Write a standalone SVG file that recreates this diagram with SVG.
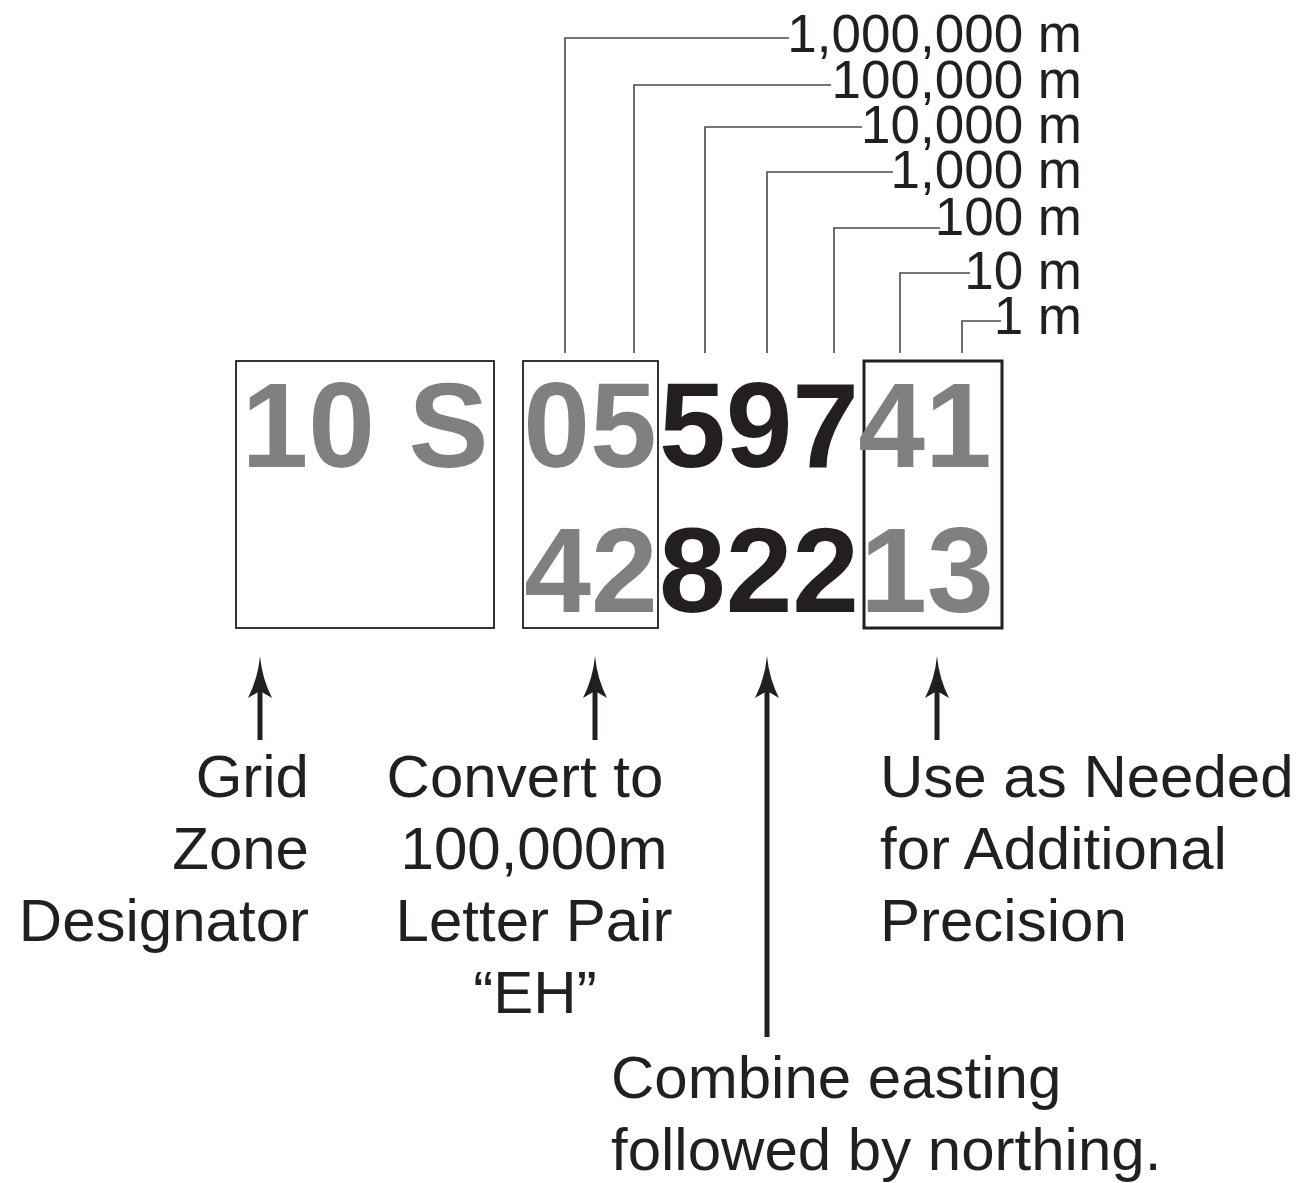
<svg xmlns="http://www.w3.org/2000/svg" width="1301" height="1183" viewBox="0 0 1301 1183">
<style>
.lbl{font-family:"Liberation Sans",Arial,Helvetica,sans-serif;font-size:53px;fill:#231f20;text-anchor:end}
.cap{font-family:"Liberation Sans",Arial,Helvetica,sans-serif;font-size:60px;fill:#231f20}
.big{font-family:"Liberation Sans",Arial,Helvetica,sans-serif;font-size:120px;font-weight:bold;text-anchor:middle}
.g{fill:#808080}
.k{fill:#231f20}
.box{fill:none;stroke:#231f20;stroke-width:1.8}
.leader{fill:none;stroke:#4a4a4a;stroke-width:1.6}
.shaft{stroke:#231f20;stroke-width:5;fill:none}
</style>
<defs>
<path id="head" d="M0,0 Q2,22 12,42 L0,35 L-12,42 Q-2,22 0,0 Z" fill="#231f20"/>
</defs>
<rect width="1301" height="1183" fill="#ffffff"/>

<g id="connectors">
<polyline class="leader" points="565,353 565,38 789,38"/>
<polyline class="leader" points="634,353 634,85 831,85"/>
<polyline class="leader" points="705,353 705,127 862,127"/>
<polyline class="leader" points="767,353 767,172 893,172"/>
<polyline class="leader" points="834,353 834,228 940,228"/>
<polyline class="leader" points="900,353 900,273 970,273"/>
<polyline class="leader" points="962,353 962,321 1001,321"/>

<line class="shaft" x1="260" y1="690" x2="260" y2="740"/>
<use href="#head" x="260" y="656"/>
<line class="shaft" x1="595" y1="690" x2="595" y2="740"/>
<use href="#head" x="595" y="656"/>
<line class="shaft" x1="767" y1="690" x2="767" y2="1037"/>
<use href="#head" x="767" y="656"/>
<line class="shaft" x1="937" y1="690" x2="937" y2="740"/>
<use href="#head" x="937" y="656"/>
</g>

<g id="scale-labels">
<text class="lbl" x="1082" y="52">1,000,000 m</text>
<text class="lbl" x="1082" y="98">100,000 m</text>
<text class="lbl" x="1082" y="143">10,000 m</text>
<text class="lbl" x="1082" y="188">1,000 m</text>
<text class="lbl" x="1082" y="235">100 m</text>
<text class="lbl" x="1082" y="289">10 m</text>
<text class="lbl" x="1082" y="334">1 m</text>
</g>

<g id="gzd">
<rect class="box" x="236" y="361" width="258" height="267"/>
<text class="big g" x="365" y="467">10 S</text>
</g>

<g id="letter-pair">
<rect class="box" x="523" y="361" width="135" height="267"/>
<text class="big g" x="590" y="467">05</text>
<text class="big g" x="591" y="612">42</text>
</g>

<g id="coords">
<text class="big k" x="759" y="467">597</text>
<text class="big k" x="759" y="612">822</text>
</g>

<g id="precision">
<rect x="864" y="361" width="138" height="267" fill="none" stroke="#231f20" stroke-width="3"/>
<text class="big g" x="925" y="467">41</text>
<text class="big g" x="927" y="612">13</text>
</g>

<g id="note-gzd">
<text class="cap" text-anchor="end" x="309" y="797">Grid</text>
<text class="cap" text-anchor="end" x="309" y="869">Zone</text>
<text class="cap" text-anchor="end" x="309" y="941">Designator</text>
</g>

<g id="note-letter-pair">
<text class="cap" text-anchor="middle" x="525" y="797">Convert to</text>
<text class="cap" text-anchor="middle" x="534" y="869">100,000m</text>
<text class="cap" text-anchor="middle" x="534" y="941">Letter Pair</text>
<text class="cap" text-anchor="middle" x="535" y="1013">“EH”</text>
</g>

<g id="note-precision">
<text class="cap" x="880" y="797">Use as Needed</text>
<text class="cap" x="880" y="869">for Additional</text>
<text class="cap" x="880" y="941">Precision</text>
</g>

<g id="note-combine">
<text class="cap" x="611" y="1098">Combine easting</text>
<text class="cap" x="611" y="1170">followed by northing.</text>
</g>
</svg>
